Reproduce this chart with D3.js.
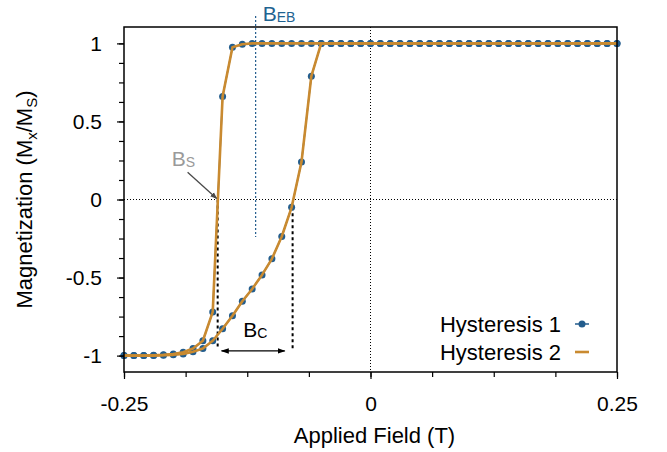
<!DOCTYPE html>
<html>
<head>
<meta charset="utf-8">
<script src="https://cdn.jsdelivr.net/npm/d3@7/dist/d3.min.js"></script>
<style>
  html, body { margin: 0; padding: 0; background: #fff; }
  svg { display: block; font-family: "Liberation Sans", Arial, Helvetica, sans-serif; }
</style>
</head>
<body>
<svg id="chart" width="667" height="452"></svg>
<script>
// Applied field grid (T), shared by both sweep directions
const field = [
  -0.25, -0.24, -0.23, -0.22, -0.21, -0.20, -0.19, -0.18, -0.17, -0.16,
  -0.15, -0.14, -0.13, -0.12, -0.11, -0.10, -0.09, -0.08, -0.07, -0.06,
  -0.05, -0.04, -0.03, -0.02, -0.01, 0.00, 0.01, 0.02, 0.03, 0.04,
  0.05, 0.06, 0.07, 0.08, 0.09, 0.10, 0.11, 0.12, 0.13, 0.14,
  0.15, 0.16, 0.17, 0.18, 0.19, 0.20, 0.21, 0.22, 0.23, 0.24, 0.25
];

// Normalised magnetisation on the down-sweep (field decreasing)
const magDown = [
  -1.000, -1.000, -1.000, -0.998, -0.995, -0.990, -0.978, -0.955, -0.905, -0.720,
  0.660, 0.975, 0.995, 1, 1, 1, 1, 1, 1, 1,
  1, 1, 1, 1, 1, 1, 1, 1, 1, 1,
  1, 1, 1, 1, 1, 1, 1, 1, 1, 1,
  1, 1, 1, 1, 1, 1, 1, 1, 1, 1, 1
];

// Normalised magnetisation on the up-sweep (field increasing)
const magUp = [
  -1.000, -1.000, -1.000, -1.000, -0.998, -0.995, -0.990, -0.975, -0.955, -0.905,
  -0.828, -0.745, -0.652, -0.573, -0.483, -0.380, -0.237, -0.050, 0.240, 0.790,
  1, 1, 1, 1, 1, 1, 1, 1, 1, 1,
  1, 1, 1, 1, 1, 1, 1, 1, 1, 1,
  1, 1, 1, 1, 1, 1, 1, 1, 1, 1, 1
];

// Tick values and labels
const xTicks = [-0.25, 0, 0.25];
const xTickLabels = ["-0.25", "0", "0.25"];
const xMinorTicks = [-0.25, -0.1875, -0.125, -0.0625, 0, 0.0625, 0.125, 0.1875, 0.25];
const yTicks = [-1, -0.5, 0, 0.5, 1];
const yTickLabels = ["-1", "-0.5", "0", "0.5", "1"];
const yMinorTicks = [-1, -0.875, -0.75, -0.625, -0.5, -0.375, -0.25, -0.125, 0,
                     0.125, 0.25, 0.375, 0.5, 0.625, 0.75, 0.875, 1];

// Characteristic fields (T)
const switchField = -0.155;      // B_S, down-sweep zero crossing
const upCrossField = -0.079;     // up-sweep zero crossing
const exchangeBias = -0.1165;    // B_EB, centre of the loop
const coercArrow = [-0.151, -0.087]; // extent of the B_C arrow

const seriesNames = ["Hysteresis 1", "Hysteresis 2"];
const BLUE = "#235d8d";
const ORANGE = "#c98a30";

const svg = d3.select("#chart");
const margin = { left: 124, right: 50, top: 27, bottom: 80 };
const W = 667, H = 452;

const x = d3.scaleLinear().domain([-0.25, 0.25]).range([margin.left, W - margin.right]);
const y = d3.scaleLinear().domain([-1.105, 1.105]).range([H - margin.bottom, margin.top]);

const defs = svg.append("defs");
defs.append("marker").attr("id", "arrowGray")
  .attr("viewBox", "0 0 10 10").attr("refX", 9).attr("refY", 5)
  .attr("markerWidth", 7).attr("markerHeight", 7).attr("orient", "auto-start-reverse")
  .attr("markerUnits", "userSpaceOnUse")
  .append("path").attr("d", "M0,1 L10,5 L0,9 Z").attr("fill", "#4a4a4a");
defs.append("marker").attr("id", "arrowBlack")
  .attr("viewBox", "0 0 10 10").attr("refX", 9).attr("refY", 5)
  .attr("markerWidth", 8).attr("markerHeight", 8).attr("orient", "auto-start-reverse")
  .attr("markerUnits", "userSpaceOnUse")
  .append("path").attr("d", "M0,1.5 L10,5 L0,8.5 Z").attr("fill", "#000");

// Zero reference lines
svg.append("line")
  .attr("x1", x(-0.25)).attr("x2", x(0.25)).attr("y1", y(0)).attr("y2", y(0))
  .attr("stroke", "#000").attr("stroke-width", 1).attr("stroke-dasharray", "1,2");
svg.append("line")
  .attr("x1", x(0)).attr("x2", x(0)).attr("y1", y(1.105)).attr("y2", y(-1.105))
  .attr("stroke", "#000").attr("stroke-width", 1).attr("stroke-dasharray", "1,2");

// Exchange-bias marker line
svg.append("line")
  .attr("x1", x(exchangeBias)).attr("x2", x(exchangeBias))
  .attr("y1", y(1.175)).attr("y2", y(-0.24))
  .attr("stroke", BLUE).attr("stroke-width", 1.2).attr("stroke-dasharray", "2,2");

// Coercive field guides
[[switchField, 0], [upCrossField, -0.05]].forEach(([fx, m0]) => {
  svg.append("line")
    .attr("x1", x(fx)).attr("x2", x(fx)).attr("y1", y(m0)).attr("y2", y(-0.96))
    .attr("stroke", "#000").attr("stroke-width", 2).attr("stroke-dasharray", "3,3");
});

const downPts = field.map((f, i) => [f, magDown[i]]);
const upPts = field.map((f, i) => [f, magUp[i]]);
const line = d3.line().x(d => x(d[0])).y(d => y(d[1]));

// Hysteresis 1: points with connecting line
[downPts, upPts].forEach(pts => {
  svg.append("path").attr("d", line(pts)).attr("fill", "none")
    .attr("stroke", BLUE).attr("stroke-width", 1.5);
});
const dotsG = svg.append("g");
[downPts, upPts].forEach(pts => {
  dotsG.selectAll(null).data(pts).enter().append("circle")
    .attr("cx", d => x(d[0])).attr("cy", d => y(d[1])).attr("r", 3.5)
    .attr("fill", BLUE);
});

// Hysteresis 2: line
[downPts, upPts].forEach(pts => {
  svg.append("path").attr("d", line(pts)).attr("fill", "none")
    .attr("stroke", ORANGE).attr("stroke-width", 2.6)
    .attr("stroke-linejoin", "round");
});

// Annotations
function subLabel(px, py, main, sub, color) {
  const t = svg.append("text").attr("x", px).attr("y", py)
    .attr("fill", color).attr("font-size", 21);
  t.append("tspan").text(main);
  t.append("tspan").attr("font-size", 14).attr("dy", 1).text(sub);
  return t;
}
subLabel(x(exchangeBias) + 7, 21, "B", "EB", "#1f6391");
subLabel(x(-0.2015), y(0.215), "B", "S", "#9a9a9a");
subLabel(x(-0.129), y(-0.878), "B", "C", "#000");

svg.append("line")
  .attr("x1", x(-0.1855)).attr("y1", y(0.175))
  .attr("x2", x(switchField) - 1).attr("y2", y(0) - 1)
  .attr("stroke", "#4a4a4a").attr("stroke-width", 1.3)
  .attr("marker-end", "url(#arrowGray)");

svg.append("line")
  .attr("x1", x(coercArrow[0])).attr("x2", x(coercArrow[1]))
  .attr("y1", y(-0.97)).attr("y2", y(-0.97))
  .attr("stroke", "#000").attr("stroke-width", 1.3)
  .attr("marker-start", "url(#arrowBlack)").attr("marker-end", "url(#arrowBlack)");

// Axes
const gx = svg.append("g").attr("transform", `translate(0,${y(-1.105)})`);
gx.call(d3.axisBottom(x).tickValues(xMinorTicks).tickSize(5).tickFormat(""));
gx.append("g").call(d3.axisBottom(x).tickValues(xTicks)
  .tickFormat((d, i) => xTickLabels[i]).tickSize(7).tickPadding(17));
const gy = svg.append("g").attr("transform", `translate(${x(-0.25)},0)`);
gy.call(d3.axisLeft(y).tickValues(yMinorTicks).tickSize(5).tickFormat(""));
gy.append("g").call(d3.axisLeft(y).tickValues(yTicks)
  .tickFormat((d, i) => yTickLabels[i]).tickSize(7).tickPadding(15));
svg.selectAll(".domain").remove();
svg.selectAll(".tick line").attr("stroke", "#000").attr("stroke-width", 1.2);
svg.selectAll(".tick text").attr("font-size", 21).attr("fill", "#000")
  .attr("font-family", "'Liberation Sans', Arial, Helvetica, sans-serif");

// Frame
svg.append("rect")
  .attr("x", x(-0.25)).attr("y", y(1.105))
  .attr("width", x(0.25) - x(-0.25)).attr("height", y(-1.105) - y(1.105))
  .attr("fill", "none").attr("stroke", "#000").attr("stroke-width", 1.5);

// Axis titles
svg.append("text").attr("x", (x(-0.25) + x(0.25)) / 2 + 4).attr("y", 443)
  .attr("text-anchor", "middle").attr("font-size", 22).text("Applied Field (T)");
const yt = svg.append("text")
  .attr("transform", `translate(32,${(y(1.105) + y(-1.105)) / 2}) rotate(-90)`)
  .attr("text-anchor", "middle").attr("font-size", 22);
yt.append("tspan").text("Magnetization (M");
yt.append("tspan").attr("font-size", 15).attr("dy", 5).text("x");
yt.append("tspan").attr("dy", -5).text("/M");
yt.append("tspan").attr("font-size", 15).attr("dy", 5).text("S");
yt.append("tspan").attr("dy", -5).text(")");

// Legend
const leg = svg.append("g");
seriesNames.forEach((name, i) => {
  const ly = 324 + i * 28;
  leg.append("text").attr("x", 561).attr("y", ly + 8).attr("text-anchor", "end")
    .attr("font-size", 22).text(name);
  leg.append("line").attr("x1", 575).attr("x2", 589).attr("y1", ly).attr("y2", ly)
    .attr("stroke", i === 0 ? BLUE : ORANGE).attr("stroke-width", i === 0 ? 1.5 : 2.6);
  if (i === 0) {
    leg.append("circle").attr("cx", 582).attr("cy", ly).attr("r", 3.5).attr("fill", BLUE);
  }
});
</script>
</body>
</html>
